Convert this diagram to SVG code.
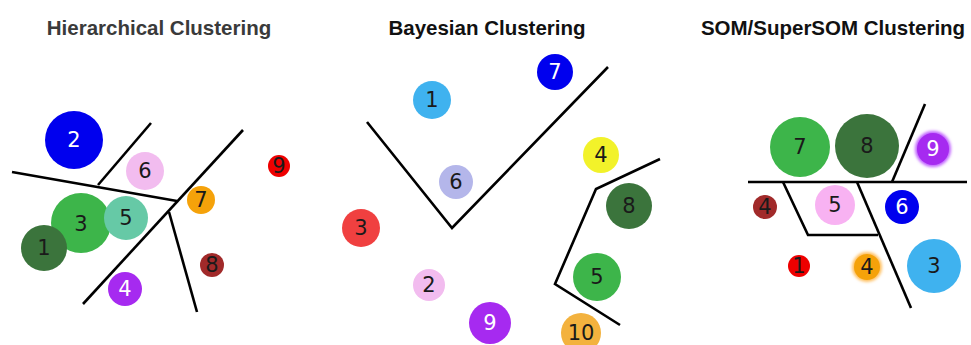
<svg xmlns="http://www.w3.org/2000/svg" width="971" height="345" viewBox="0 0 971 345">
<style>
.t{font-family:"Liberation Sans",Arial,sans-serif;font-weight:bold;font-size:20.5px;text-anchor:middle}
.n{font-family:"DejaVu Sans","Noto Sans",sans-serif;font-size:21px;text-anchor:middle;dominant-baseline:central;fill:#1a1a1a}
.w{fill:#ffffff}
.ln{fill:none;stroke:#000;stroke-width:2.6;stroke-linejoin:miter}
</style>
<defs>
<filter id="glow" x="-50%" y="-50%" width="200%" height="200%"><feGaussianBlur stdDeviation="1.5"/></filter>
</defs>
<rect width="971" height="345" fill="#ffffff"/>
<text class="t" x="159" y="35" fill="#3a3a3a">Hierarchical Clustering</text>
<text class="t" x="487" y="35" fill="#111">Bayesian Clustering</text>
<text class="t" x="833" y="35" fill="#111">SOM/SuperSOM Clustering</text>

<g id="connectors">
<path class="ln" d="M12,172 L177,201"/>
<path class="ln" d="M98,185 L151,123"/>
<path class="ln" d="M243,130 L83,304"/>
<path class="ln" d="M169,212 L197,312"/>
<path class="ln" d="M367,122 L452,228 L608,67"/>
<path class="ln" d="M660,159 L596,189 L555,284 L620,325"/>
<path class="ln" d="M748,182 L967,182"/>
<path class="ln" d="M892,182 L925,104"/>
<path class="ln" d="M783,182 L808,235 L878,235"/>
<path class="ln" d="M857,182 L911,308"/>
</g>

<g id="h2"><circle cx="74" cy="140" r="29" fill="#0000ee"/><text class="n w" x="74" y="140">2</text></g>
<g id="h6"><circle cx="145" cy="171" r="19" fill="#f2bcef"/><text class="n" x="145" y="171">6</text></g>
<g id="h3"><circle cx="81" cy="223" r="30" fill="#3db54a"/><text class="n" x="81" y="224">3</text></g>
<g id="h5"><circle cx="126" cy="218" r="22" fill="#66c9a6"/><text class="n" x="126" y="218">5</text></g>
<g id="h1"><circle cx="44" cy="248" r="23" fill="#3b743c"/><text class="n" x="44" y="248">1</text></g>
<g id="h4"><circle cx="125" cy="289" r="17" fill="#a62af0"/><text class="n w" x="125" y="289">4</text></g>
<g id="h7"><circle cx="201" cy="200" r="14" fill="#f5a20a"/><text class="n" x="201" y="200">7</text></g>
<g id="h8"><circle cx="212" cy="265" r="12" fill="#a12a2a"/><text class="n" x="212" y="265">8</text></g>
<g id="h9"><circle cx="279" cy="166" r="11" fill="#ee0000"/><text class="n" x="279" y="166">9</text></g>

<g id="b7"><circle cx="555" cy="72" r="18" fill="#0000ee"/><text class="n w" x="555" y="72">7</text></g>
<g id="b1"><circle cx="432" cy="100" r="19" fill="#3fb2ef"/><text class="n" x="432" y="100">1</text></g>
<g id="b6"><circle cx="456" cy="182" r="17" fill="#b4b6ea"/><text class="n" x="456" y="182">6</text></g>
<g id="b4"><circle cx="601" cy="155" r="18" fill="#f2f22a"/><text class="n" x="601" y="155">4</text></g>
<g id="b8"><circle cx="629" cy="206" r="23" fill="#3b743c"/><text class="n" x="629" y="206">8</text></g>
<g id="b3"><circle cx="361" cy="228" r="19" fill="#f04040"/><text class="n" x="361" y="228">3</text></g>
<g id="b5"><circle cx="597" cy="277" r="24" fill="#3db54a"/><text class="n" x="597" y="277">5</text></g>
<g id="b2"><circle cx="429" cy="285" r="16" fill="#f2bcef"/><text class="n" x="429" y="285">2</text></g>
<g id="b9"><circle cx="490" cy="323" r="21" fill="#a62af0"/><text class="n w" x="490" y="323">9</text></g>
<g id="b10"><circle cx="581" cy="333" r="20" fill="#f3b23e"/><text class="n" x="581" y="333">10</text></g>

<g id="s7"><circle cx="800" cy="147" r="30" fill="#3db54a"/><text class="n" x="800" y="147">7</text></g>
<g id="s8"><circle cx="867" cy="146" r="32" fill="#3b743c"/><text class="n" x="867" y="146">8</text></g>
<g id="s9"><circle cx="933" cy="149" r="18" fill="#c060ff" filter="url(#glow)"/><circle cx="933" cy="149" r="16" fill="#a62af0"/><text class="n w" x="933" y="149">9</text></g>
<g id="s4a"><circle cx="765" cy="207" r="12" fill="#a12a2a"/><text class="n" x="765" y="207">4</text></g>
<g id="s5"><circle cx="835" cy="205" r="20" fill="#f8b2f2"/><text class="n" x="835" y="205">5</text></g>
<g id="s6"><circle cx="902" cy="207" r="17" fill="#0000ee"/><text class="n w" x="902" y="207">6</text></g>
<g id="s1"><circle cx="799" cy="266" r="11" fill="#ee0000"/><text class="n" x="799" y="266">1</text></g>
<g id="s4b"><circle cx="867" cy="267" r="15" fill="#ffc060" filter="url(#glow)"/><circle cx="867" cy="267" r="13" fill="#f5a20a"/><text class="n" x="867" y="267">4</text></g>
<g id="s3"><circle cx="934" cy="266" r="27" fill="#3fb2ef"/><text class="n" x="934" y="266">3</text></g>
</svg>
